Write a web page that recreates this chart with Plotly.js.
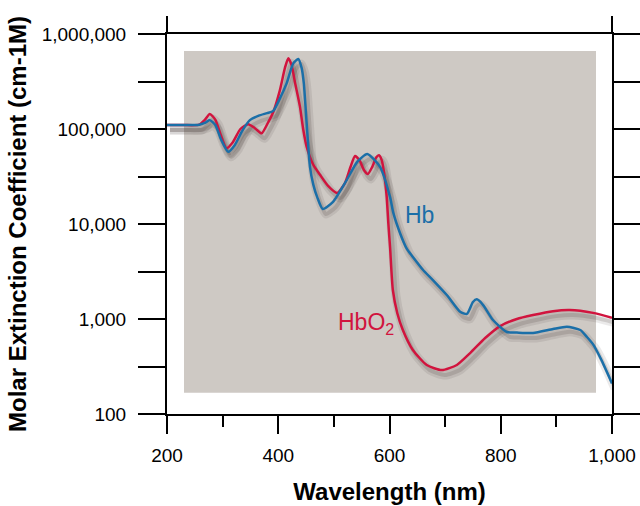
<!DOCTYPE html>
<html>
<head>
<meta charset="utf-8">
<script src="https://cdn.plot.ly/plotly-3.0.1.min.js"></script>
<style>html,body{margin:0;padding:0;background:#fff;}</style>
</head>
<body>
<div id="chart" style="width:640px;height:506px;"></div>
<script>
// HbO2 (oxyhemoglobin) molar extinction coefficient
const hbo2Wavelength = [200, 230, 258, 268, 277, 287, 297, 307, 318, 332, 346, 358, 370, 381, 391, 403, 412, 418, 424, 430, 439, 445, 451, 463, 475, 490, 506, 520, 530, 538, 546, 554, 561, 569, 576, 581, 586, 591, 595, 598, 601, 606, 614, 624, 642, 667, 694, 721, 745, 772, 799, 829, 858, 894, 924, 966, 1000];
const hbo2Values = [110000, 110000, 111000, 125000, 144000, 125000, 85000, 62700, 72000, 100000, 112000, 102000, 90000, 115000, 151000, 257000, 440000, 555000, 470000, 310000, 172000, 98000, 65000, 42000, 33000, 25000, 21200, 27000, 40000, 52000, 47000, 37000, 33600, 40000, 50000, 53000, 47000, 32000, 19200, 10000, 5700, 2020, 1150, 766, 472, 328, 290, 328, 438, 631, 843, 1000, 1100, 1210, 1245, 1160, 1030];

// Hb (deoxyhemoglobin) molar extinction coefficient
const hbWavelength = [200, 230, 258, 268, 277, 287, 297, 310, 322, 335, 349, 365, 380, 391, 403, 415, 427, 436, 442, 446, 451, 457, 463, 470, 480, 498, 523, 542, 560, 583, 601, 607, 619, 631, 642, 660, 678, 703, 727, 739, 750, 757, 768, 786, 811, 829, 858, 894, 919, 943, 955, 966, 980, 1000];
const hbValues = [110000, 110000, 111000, 116000, 124000, 110000, 78000, 57600, 68000, 95000, 124000, 138000, 147000, 155000, 210000, 302000, 490000, 545000, 440000, 300000, 116000, 40000, 26000, 19200, 14400, 17000, 29000, 45000, 54600, 40000, 19200, 13000, 8000, 5500, 4500, 3300, 2570, 1790, 1190, 1130, 1510, 1610, 1410, 975, 730, 720, 713, 785, 830, 766, 646, 540, 380, 210];

const xTickVals = [200, 400, 600, 800, 1000];
const xTickText = ['200', '400', '600', '800', '1,000'];
const xMinorVals = [300, 500, 700, 900];
const yTickVals = [100, 1000, 10000, 100000, 1000000];
const yTickText = ['100', '1,000', '10,000', '100,000', '1,000,000'];
const yMinorVals = [316.23, 3162.3, 31623, 316228];

const RED = '#d1143e';
const BLUE = '#1b6fa8';
const FONT = 'Liberation Sans, Arial, Helvetica, sans-serif';

const shadowWide = {color: 'rgba(60,50,45,0.10)', width: 9, shape: 'spline', smoothing: 0.6};
const shadowNarrow = {color: 'rgba(60,50,45,0.16)', width: 4, shape: 'spline', smoothing: 0.6};
const traces = [
  {x: hbo2Wavelength, y: hbo2Values, mode: 'lines', line: shadowWide, xaxis: 'x', yaxis: 'y', hoverinfo: 'skip', showlegend: false},
  {x: hbWavelength, y: hbValues, mode: 'lines', line: shadowWide, xaxis: 'x', yaxis: 'y', hoverinfo: 'skip', showlegend: false},
  {x: hbo2Wavelength, y: hbo2Values, mode: 'lines', line: shadowNarrow, xaxis: 'x', yaxis: 'y', hoverinfo: 'skip', showlegend: false},
  {x: hbWavelength, y: hbValues, mode: 'lines', line: shadowNarrow, xaxis: 'x', yaxis: 'y', hoverinfo: 'skip', showlegend: false},
  {x: hbo2Wavelength, y: hbo2Values, mode: 'lines', name: 'HbO2', line: {color: RED, width: 2.5, shape: 'spline', smoothing: 0.6}, xaxis: 'x2', yaxis: 'y2', showlegend: false},
  {x: hbWavelength, y: hbValues, mode: 'lines', name: 'Hb', line: {color: BLUE, width: 2.5, shape: 'spline', smoothing: 0.6}, xaxis: 'x2', yaxis: 'y2', showlegend: false}
];

const pxPerNm = 445 / 800, pxPerDec = 380 / 4;
const sdx = 3, sdy = 5;

const layout = {
  width: 640, height: 506,
  margin: {l: 167, r: 28, t: 34, b: 92, pad: 0},
  paper_bgcolor: '#ffffff', plot_bgcolor: 'rgba(0,0,0,0)',
  showlegend: false,
  xaxis: {range: [200 - sdx / pxPerNm, 1000 - sdx / pxPerNm], visible: false, fixedrange: true},
  yaxis: {type: 'log', range: [2 + sdy / pxPerDec, 6 + sdy / pxPerDec], visible: false, fixedrange: true},
  xaxis2: {
    overlaying: 'x', anchor: 'y2', range: [200, 1000],
    tickvals: xTickVals, ticktext: xTickText,
    ticks: 'outside', ticklen: 18, tickwidth: 2, tickcolor: '#000',
    minor: {tickvals: xMinorVals, ticks: 'outside', ticklen: 11, tickwidth: 2, tickcolor: '#000', showgrid: false},
    showline: true, linewidth: 2, linecolor: '#000', mirror: true,
    showgrid: false, zeroline: false,
    tickfont: {family: FONT, size: 19, color: '#000'},
    ticklabelstandoff: 5,
    title: {text: 'Wavelength (nm)', font: {family: FONT, size: 24, color: '#000', weight: 'bold'}, standoff: 18}
  },
  yaxis2: {
    overlaying: 'y', anchor: 'x2', type: 'log', range: [2, 6],
    tickvals: yTickVals, ticktext: yTickText,
    ticks: 'outside', ticklen: 27, tickwidth: 2, tickcolor: '#000',
    minor: {tickvals: yMinorVals, ticks: 'outside', ticklen: 27, tickwidth: 2, tickcolor: '#000', showgrid: false},
    showline: true, linewidth: 2, linecolor: '#000', mirror: 'ticks',
    showgrid: false, zeroline: false,
    tickfont: {family: FONT, size: 19, color: '#000'},
    ticklabelstandoff: 8,
    title: {text: 'Molar Extinction Coefficient (cm-1M)', font: {family: FONT, size: 24, color: '#000', weight: 'bold'}, standoff: 8}
  },
  shapes: [
    {type: 'rect', xref: 'paper', yref: 'paper', x0: 17 / 445, x1: 429 / 445, y0: 21.3 / 380, y1: 363 / 380,
     fillcolor: '#cec9c4', line: {width: 0}, layer: 'below'},
    {type: 'line', xref: 'paper', yref: 'paper', x0: 0, x1: 0, y0: 1, y1: 1 + 18 / 380, line: {color: '#000', width: 2}},
    {type: 'line', xref: 'paper', yref: 'paper', x0: 1, x1: 1, y0: 1, y1: 1 + 18 / 380, line: {color: '#000', width: 2}}
  ],
  annotations: [
    {text: 'Hb', xref: 'paper', yref: 'paper', x: 236 / 445, y: 199 / 380, xanchor: 'left', yanchor: 'middle',
     showarrow: false, font: {family: FONT, size: 23, color: BLUE}},
    {text: 'HbO<sub>2</sub>', xref: 'paper', yref: 'paper', x: 169 / 445, y: 91 / 380, xanchor: 'left', yanchor: 'middle',
     showarrow: false, font: {family: FONT, size: 23, color: RED}}
  ]
};

Plotly.newPlot('chart', traces, layout, {displayModeBar: false, staticPlot: true});
</script>
</body>
</html>
